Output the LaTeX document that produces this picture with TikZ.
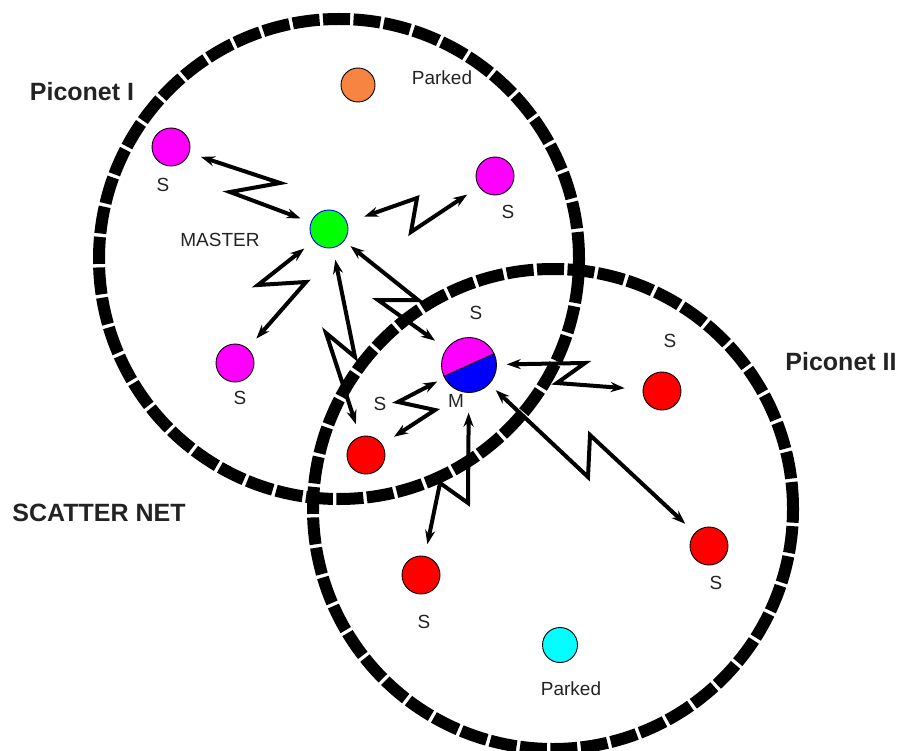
\documentclass[tikz,border=0pt]{standalone}
\usepackage{fontspec}
\setmainfont{Liberation Sans}
\usetikzlibrary{arrows.meta}
\definecolor{parkorange}{RGB}{247,132,64}
\definecolor{txtgray}{RGB}{35,35,35}
\definecolor{pmag}{RGB}{255,0,255}
\definecolor{pcyan}{RGB}{0,255,255}
\definecolor{pgreen}{RGB}{0,255,0}
\definecolor{pred}{RGB}{255,0,0}
\definecolor{pblue}{RGB}{0,0,255}
\begin{document}
\begin{tikzpicture}[x=1pt,y=-1pt,
  ring/.style={line width=12pt, dash pattern=on 27pt off 3.5pt},
  dev/.style={circle, draw=black, line width=0.9pt, minimum size=38pt, inner sep=0pt},
  bolt/.style={line width=4pt, line join=miter,
    {Stealth[length=14pt,width=10pt]}-{Stealth[length=14pt,width=10pt]}},
  lbl/.style={font=\fontsize{19}{19}\selectfont, text=txtgray},
  title/.style={font=\fontsize{25}{25}\selectfont\bfseries, text=txtgray}]
\useasboundingbox (0,0) rectangle (899,751);
% rings
\draw[ring] (339,259) circle[radius=240pt];
\draw[ring] (553,509) circle[radius=240pt];
% devices
\node[dev, fill=parkorange, minimum size=34pt] (park1) at (358,85) {};
\node[dev, fill=pmag] (s1) at (171,147) {};
\node[dev, fill=pmag] (s2) at (495,176) {};
\node[dev, fill=pgreen, draw=pblue] (m) at (329,229) {};
\node[dev, fill=pmag] (s3) at (235,363) {};
\node[dev, fill=pred] (r1) at (366,455) {};
\node[dev, fill=pred] (r2) at (662,391) {};
\node[dev, fill=pred] (r3) at (709,546) {};
\node[dev, fill=pred] (r4) at (421,575) {};
\node[dev, fill=pcyan, minimum size=35pt] (park2) at (560,645) {};
% bicolour master/slave
\node[circle, minimum size=55pt, inner sep=0pt] (bic) at (469,365) {};
\begin{scope}
  \clip (469,365) circle[radius=27.5pt];
  \fill[pmag] (469,365) circle[radius=27.5pt];
  \fill[pblue] (432.6,381.4) -- (505.4,348.6) -- (521.8,385) -- (449,417.8) -- cycle;
  \draw[line width=0.9pt] (432.6,381.4) -- (505.4,348.6);
\end{scope}
\draw[line width=0.9pt] (469,365) circle[radius=27.5pt];
% lightning links
\draw[bolt, shorten <=12pt, shorten >=11pt] (s1) -- (280,183) -- (230,192) -- (m);
\draw[bolt, shorten <=18pt, shorten >=14pt] (m) -- (417,198) -- (411,232) -- (s2);
\draw[bolt, shorten <=12pt, shorten >=13pt] (m) -- (258,285) -- (306,282) -- (s3);
\draw[bolt, shorten <=12pt, shorten >=13pt] (m) -- (355,357) -- (326,333) -- (r1);
\draw[bolt, shorten <=8pt, shorten >=14pt] (m) -- (418,300) -- (378,300) -- (bic);
\draw[bolt, shorten <=8pt, shorten >=14pt] (bic) -- (398,402) -- (435,410) -- (r1);
\draw[bolt, shorten <=10pt, shorten >=18pt] (bic) -- (585,363) -- (557,383) -- (r2);
\draw[bolt, shorten <=9pt, shorten >=13pt] (bic) -- (588,477) -- (590,435) -- (r3);
\draw[bolt, shorten <=20pt, shorten >=12pt] (bic) -- (468,503) -- (440,483) -- (r4);
% labels
\node[title] (t1) at (82,92) {Piconet I};
\node[title] (t2) at (841,362) {Piconet II};
\node[title] (t3) at (99,513) {SCATTER NET};
\node[lbl] (lp1) at (442,78) {Parked};
\node[lbl] (lp2) at (571,689) {Parked};
\node[lbl] (lm) at (220,240) {MASTER};
\node[lbl] (ls1) at (163,185) {S};
\node[lbl] (ls2) at (508,212) {S};
\node[lbl] (ls3) at (240,398) {S};
\node[lbl] (ls4) at (476,313) {S};
\node[lbl] (lM) at (456,401) {M};
\node[lbl] (ls5) at (380,404) {S};
\node[lbl] (ls6) at (670,341) {S};
\node[lbl] (ls7) at (716,583) {S};
\node[lbl] (ls8) at (424,622) {S};
\end{tikzpicture}
\end{document}
